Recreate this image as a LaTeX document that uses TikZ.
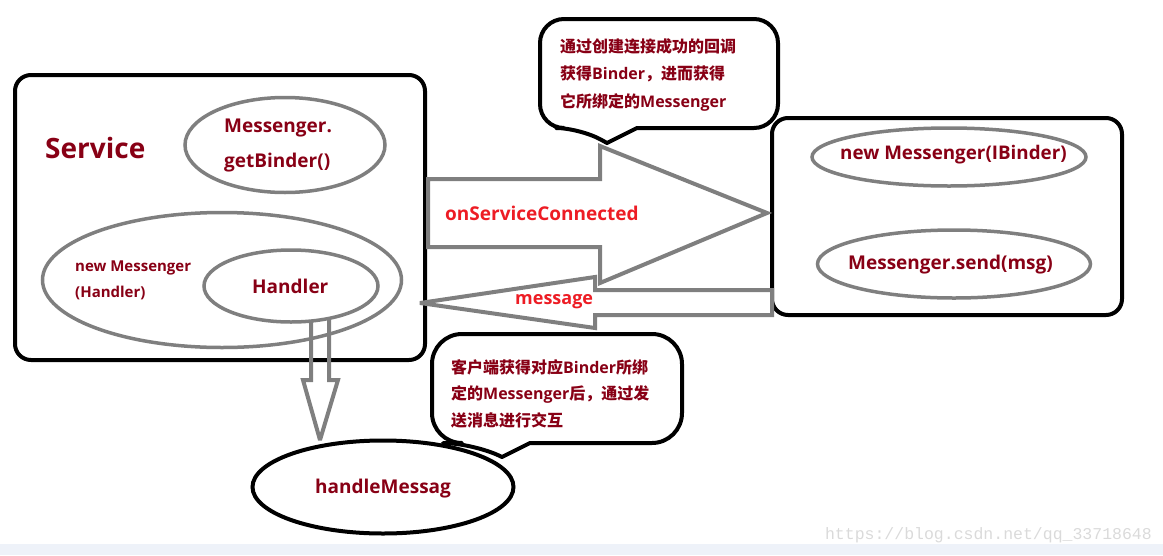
\documentclass[tikz,border=0pt]{standalone}
\usepackage{fontspec}
\setmainfont{Open Sans}
\newfontfamily\cjk{Noto Sans CJK SC}
\newfontfamily\wmfont{Liberation Mono}
\usetikzlibrary{shapes.geometric}
\definecolor{dred}{RGB}{136,0,21}
\definecolor{bred}{RGB}{237,28,36}
\definecolor{pgray}{RGB}{127,127,127}
\definecolor{strip}{RGB}{238,242,249}
\definecolor{wm}{RGB}{218,218,218}
\newcommand{\fs}[1]{\fontsize{#1}{#1}\selectfont}
\begin{document}
\begin{tikzpicture}[x=1pt,y=-1pt,
  box/.style={draw=black, line width=4pt, rounded corners=16pt},
  oval/.style={ellipse, draw=pgray, line width=3.5pt, inner sep=0pt},
  blackoval/.style={ellipse, draw=black, line width=4pt, inner sep=0pt},
  lbl/.style={text=dred, font=\bfseries, inner sep=0pt, anchor=west},
  redlbl/.style={text=bred, inner sep=0pt, anchor=west},
  arr/.style={draw=pgray, line width=4pt, line join=miter, miter limit=3},
  bubble/.style={draw=black, line width=4pt, line join=round}]
\useasboundingbox (0,0) rectangle (1163,555);
\fill[strip] (0,544) rectangle (1163,555);
\node[wm, font=\wmfont\fs{16.5}, inner sep=0pt, anchor=east] (wmark) at (1152,535) {https://blog.csdn.net/qq\_33718648};

% Service box
\draw[box] (15,75) rectangle (425,360);
\node[lbl, font=\bfseries\fs{28}] (svc) at (45,148) {Service};
\node[oval, minimum width=200pt, minimum height=95pt] (gb) at (285,145) {};
\node[lbl, font=\bfseries\fs{19}] (gbt1) at (224,128) {Messenger.};
\node[lbl, font=\bfseries\fs{19}] (gbt2) at (224,163) {getBinder()};
\node[oval, minimum width=359pt, minimum height=135pt] (nm) at (222,280) {};
\node[lbl, font=\bfseries\fs{15}] (nmt1) at (75,268) {new Messenger};
\node[lbl, font=\bfseries\fs{15}] (nmt2) at (75,293) {(Handler)};
\node[oval, minimum width=174pt, minimum height=72pt] (hd) at (291,286) {};
\node[lbl, font=\bfseries\fs{19}] (hdt) at (252,286) {Handler};

% down arrow to handleMessag
\draw[arr] (311,320) -- (311,380) -- (303,380) -- (320,440) -- (338,380) -- (329,380) -- (329,320);
\node[blackoval, minimum width=261pt, minimum height=93pt] (hm) at (383,487) {};
\node[lbl, font=\bfseries\fs{19}] (hmt) at (315,489) {handleMessag};

% right box
\draw[box] (772,118) rectangle (1122,315);
\node[oval, minimum width=274pt, minimum height=58pt] (nb) at (949,157) {};
\node[lbl, font=\bfseries\fs{18.8}] (nbt) at (840,155) {new Messenger(IBinder)};
\node[oval, minimum width=273pt, minimum height=68pt] (ms) at (954,264) {};
\node[lbl, font=\bfseries\fs{19}] (mst) at (848,265) {Messenger.send(msg)};

% message arrow (left)
\draw[arr] (420,303) -- (595,277) -- (595,290) -- (772,290) -- (772,315) -- (595,315) -- (595,328) -- cycle;
\node[redlbl, font=\bfseries\fs{18}] (msgt) at (515,302) {message};
% onServiceConnected arrow (right)
\draw[arr] (428,179) -- (600,179) -- (600,146) -- (767,213) -- (600,283) -- (600,247) -- (428,247) -- cycle;
\node[redlbl, font=\bfseries\fs{19}] (osc) at (445,213) {onServiceConnected};

% callout 1
\draw[bubble] (607,143) -- (637,128) [rounded corners=24pt] -- (778,128) -- (778,19) -- (540,19) -- (540,128) -- (580,128) [sharp corners] -- cycle;
\node[lbl, font=\bfseries\fs{16}] (c1a) at (560,46) {\cjk 通过创建连接成功的回调};
\node[lbl, font=\bfseries\fs{16}] (c1b) at (560,74) {{\cjk 获得}Binder{\cjk ，进而获得}};
\node[lbl, font=\bfseries\fs{16}] (c1c) at (560,102) {{\cjk 它所绑定的}Messenger};

% callout 2
\draw[bubble] (502,457) -- (530,443) [rounded corners=30pt] -- (682,443) -- (682,334) -- (432,334) -- (432,443) -- (473,443) [sharp corners] -- cycle;
\node[lbl, font=\bfseries\fs{16}] (c2a) at (451,367) {{\cjk 客户端获得对应}Binder{\cjk 所绑}};
\node[lbl, font=\bfseries\fs{16}] (c2b) at (451,394) {{\cjk 定的}Messenger{\cjk 后，通过发}};
\node[lbl, font=\bfseries\fs{16}] (c2c) at (451,420) {\cjk 送消息进行交互};
\end{tikzpicture}
\end{document}
